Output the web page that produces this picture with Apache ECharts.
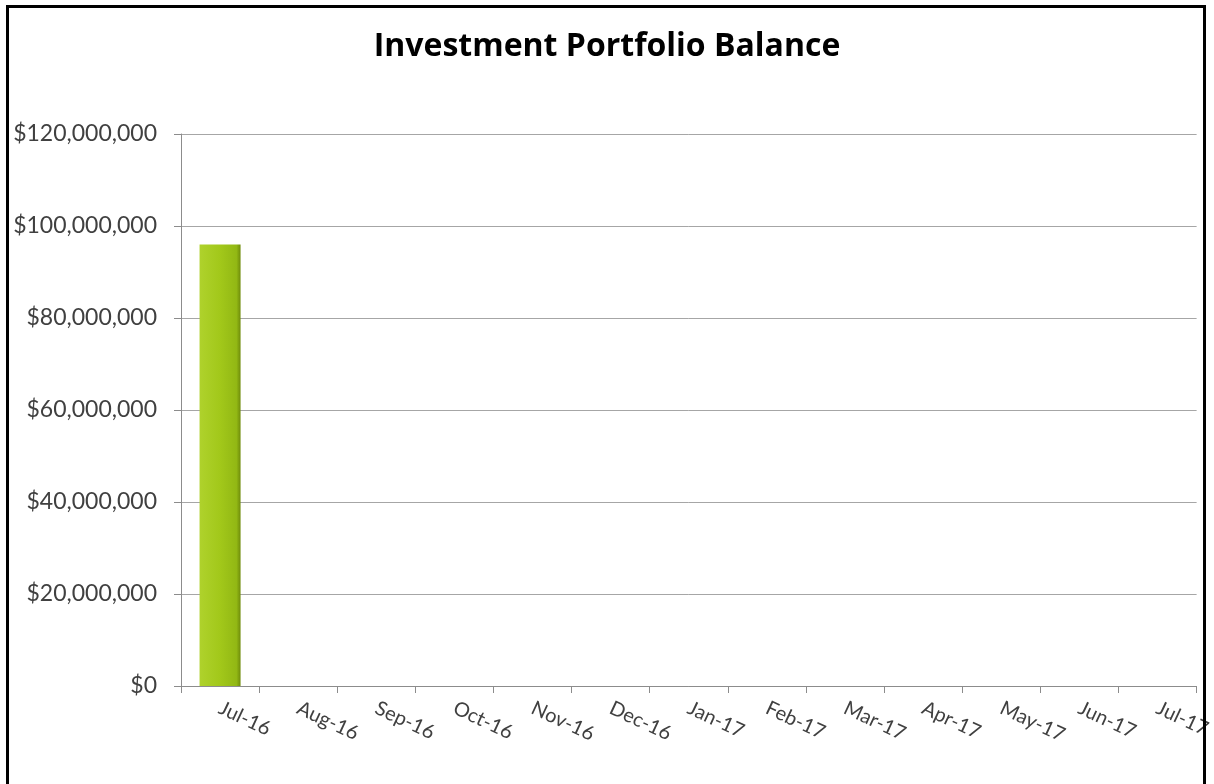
<!DOCTYPE html>
<html>
<head>
<meta charset="utf-8">
<script src="https://cdn.jsdelivr.net/npm/echarts@6/dist/echarts.min.js"></script>
<style>
  html, body { margin: 0; padding: 0; background: #fff; overflow: hidden; }
  #frame {
    position: absolute; left: 6px; top: 5px; width: 1200px; height: 820px;
    border: 3px solid #000; border-bottom: none; box-sizing: border-box;
  }
  #chart { position: absolute; left: 0; top: 0; width: 1214px; height: 784px; }
</style>
</head>
<body>
<div id="chart"></div>
<div id="frame"></div>
<script>
// Month-end portfolio balances (only the first month is filled in)
const months = ['Jul-16', 'Aug-16', 'Sep-16', 'Oct-16', 'Nov-16', 'Dec-16', 'Jan-17',
                'Feb-17', 'Mar-17', 'Apr-17', 'May-17', 'Jun-17', 'Jul-17'];
const balances = [96000000, null, null, null, null, null, null, null, null, null, null, null, null];

const yMin = 0;
const yMax = 120000000;
const yStep = 20000000;

const chart = echarts.init(document.getElementById('chart'), null, { renderer: 'canvas' });

function money(v) {
  return '$' + Math.round(v).toString().replace(/\B(?=(\d{3})+(?!\d))/g, ',');
}

chart.setOption({
  animation: false,
  backgroundColor: '#ffffff',
  title: {
    text: 'Investment Portfolio Balance',
    left: 'center',
    top: 26,
    textStyle: { fontFamily: 'Open Sans', fontWeight: 'bold', fontSize: 32, color: '#000' }
  },
  grid: { left: 181, right: 16, top: 134, bottom: 98, containLabel: false },
  xAxis: {
    type: 'category',
    data: months,
    boundaryGap: true,
    axisLine: { lineStyle: { color: '#8c8c8c', width: 1 } },
    axisTick: { show: true, alignWithLabel: false, length: 7, lineStyle: { color: '#8c8c8c' } },
    axisLabel: {
      interval: 0, rotate: -25, margin: 21,
      fontFamily: 'Lato', fontSize: 20, color: '#404040'
    }
  },
  yAxis: {
    type: 'value',
    min: yMin, max: yMax, interval: yStep,
    axisLine: { show: true, lineStyle: { color: '#8c8c8c', width: 1 } },
    axisTick: { show: true, length: 7, lineStyle: { color: '#8c8c8c' } },
    splitLine: { lineStyle: { color: '#a6a6a6', width: 1 } },
    axisLabel: {
      margin: 24, formatter: money,
      fontFamily: 'Lato', fontSize: 23, color: '#404040'
    }
  },
  series: [{
    type: 'bar',
    data: balances,
    barWidth: 41,
    itemStyle: {
      color: new echarts.graphic.LinearGradient(0, 0, 1, 0, [
        { offset: 0, color: '#afd22c' },
        { offset: 0.5, color: '#a2c81a' },
        { offset: 0.9, color: '#92b814' },
        { offset: 1, color: '#6f8c0a' }
      ]),
      borderWidth: 0
    }
  }]
});
</script>
</body>
</html>
